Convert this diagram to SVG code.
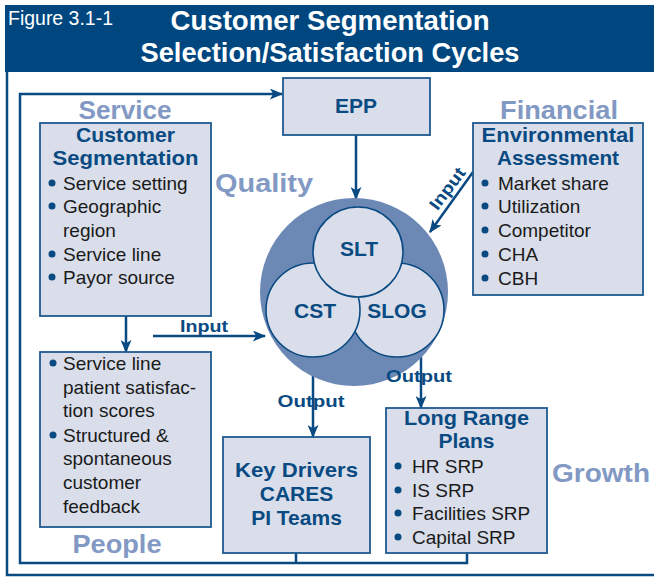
<svg xmlns="http://www.w3.org/2000/svg" width="654" height="578" viewBox="0 0 654 578">
<defs>
<style>
.bg{fill:#ffffff}
.hdr{fill:#00477f}
.frame{fill:none;stroke:#0a4a82;stroke-width:2.5}
.box{fill:#d9deea;stroke:#1f5a8f;stroke-width:1.8}
.conn{fill:none;stroke:#0a4a82;stroke-width:2.5}
.big{fill:#6c88b5}
.circ{fill:#d9deea;stroke:#0a4a82;stroke-width:1.6}
.t-hdr{font-family:"Liberation Sans",Arial,sans-serif;fill:#ffffff;font-weight:bold;font-size:27px;text-anchor:middle}
.t-fig{font-family:"Liberation Sans",Arial,sans-serif;fill:#ffffff;font-size:20px}
.t-big{font-family:"Liberation Sans",Arial,sans-serif;fill:#8299c4;font-weight:bold;font-size:26px;text-anchor:middle}
.t-title{font-family:"Liberation Sans",Arial,sans-serif;fill:#0a4a82;font-weight:bold;font-size:21px;text-anchor:middle}
.t-node{font-family:"Liberation Sans",Arial,sans-serif;fill:#0a4a82;font-weight:bold;font-size:21px;text-anchor:middle}
.t-lbl{font-family:"Liberation Sans",Arial,sans-serif;fill:#0a4a82;font-weight:bold;font-size:17px;text-anchor:middle}
.t-bul{font-family:"Liberation Sans",Arial,sans-serif;fill:#1a1a1a;font-size:19px}
.dot{fill:#0a4a82}
</style>
<marker id="ah" viewBox="0 0 12 10" refX="11" refY="5" markerWidth="14" markerHeight="11" markerUnits="userSpaceOnUse" orient="auto">
<path d="M0,0 L12,5 L0,10 L3,5 Z" fill="#0a4a82"/>
</marker>
</defs>
<rect class="bg" x="0" y="0" width="654" height="578"/>

<!-- header -->
<g id="header">
<rect class="hdr" x="5" y="5" width="649" height="67"/>
<text class="t-fig" x="8" y="25" textLength="105" lengthAdjust="spacingAndGlyphs">Figure 3.1-1</text>
<text class="t-hdr" x="330" y="30" textLength="319" lengthAdjust="spacingAndGlyphs">Customer Segmentation</text>
<text class="t-hdr" x="330" y="62" textLength="379" lengthAdjust="spacingAndGlyphs">Selection/Satisfaction Cycles</text>
</g>

<!-- outer frame -->
<path class="frame" d="M7,72 V575 H654"/>

<!-- category labels -->
<g id="labels">
<text class="t-big" x="125" y="119" textLength="93" lengthAdjust="spacingAndGlyphs">Service</text>
<text class="t-big" x="264" y="192" textLength="98" lengthAdjust="spacingAndGlyphs">Quality</text>
<text class="t-big" x="559" y="119" textLength="118" lengthAdjust="spacingAndGlyphs">Financial</text>
<text class="t-big" x="601" y="482" textLength="98" lengthAdjust="spacingAndGlyphs">Growth</text>
<text class="t-big" x="117" y="553" textLength="89" lengthAdjust="spacingAndGlyphs">People</text>
</g>

<!-- connectors -->
<g id="connectors">
<path class="conn" d="M467,553 V563 H20 V94 H282" marker-end="url(#ah)"/>
<path class="conn" d="M296,553 V563"/>
<path class="conn" d="M356,135 V199" marker-end="url(#ah)"/>
<path class="conn" d="M126,316 V352" marker-end="url(#ah)"/>
<path class="conn" d="M153,336 H265" marker-end="url(#ah)"/>
<path class="conn" d="M473,172 L430,232" marker-end="url(#ah)"/>
<path class="conn" d="M313,357 V437" marker-end="url(#ah)"/>
<path class="conn" d="M421,357 V408" marker-end="url(#ah)"/>
</g>

<!-- EPP -->
<g id="epp">
<rect class="box" x="283" y="78" width="147" height="57"/>
<text class="t-node" x="356" y="113">EPP</text>
</g>

<!-- Customer Segmentation -->
<g id="customer-segmentation">
<rect class="box" x="40" y="123" width="171" height="193"/>
<text class="t-title" x="125.5" y="142" textLength="99" lengthAdjust="spacingAndGlyphs">Customer</text>
<text class="t-title" x="125.5" y="165" textLength="146" lengthAdjust="spacingAndGlyphs">Segmentation</text>
<circle class="dot" cx="52" cy="183" r="3.5"/>
<text class="t-bul" x="63" y="190">Service setting</text>
<circle class="dot" cx="52" cy="206" r="3.5"/>
<text class="t-bul" x="63" y="213">Geographic</text>
<text class="t-bul" x="63" y="237">region</text>
<circle class="dot" cx="52" cy="254" r="3.5"/>
<text class="t-bul" x="63" y="261">Service line</text>
<circle class="dot" cx="52" cy="277" r="3.5"/>
<text class="t-bul" x="63" y="284">Payor source</text>
</g>

<!-- Environmental Assessment -->
<g id="environmental-assessment">
<rect class="box" x="473" y="123" width="170" height="172"/>
<text class="t-title" x="558" y="142" textLength="153" lengthAdjust="spacingAndGlyphs">Environmental</text>
<text class="t-title" x="558" y="165" textLength="122" lengthAdjust="spacingAndGlyphs">Assessment</text>
<circle class="dot" cx="485" cy="183" r="3.5"/>
<text class="t-bul" x="498" y="190">Market share</text>
<circle class="dot" cx="485" cy="206" r="3.5"/>
<text class="t-bul" x="498" y="213">Utilization</text>
<circle class="dot" cx="485" cy="230" r="3.5"/>
<text class="t-bul" x="498" y="237">Competitor</text>
<circle class="dot" cx="485" cy="254" r="3.5"/>
<text class="t-bul" x="498" y="261">CHA</text>
<circle class="dot" cx="485" cy="278" r="3.5"/>
<text class="t-bul" x="498" y="285">CBH</text>
</g>

<!-- Central circles -->
<g id="teams">
<circle class="big" cx="354" cy="292" r="94"/>
<g id="slog">
<circle class="circ" cx="397" cy="310" r="47"/>
<text class="t-node" x="397" y="318" font-size="20">SLOG</text>
</g>
<g id="cst">
<circle class="circ" cx="313" cy="310" r="47"/>
<text class="t-node" x="315" y="318" font-size="20">CST</text>
</g>
<g id="slt">
<circle class="circ" cx="358" cy="252" r="45"/>
<text class="t-node" x="359" y="256" font-size="20">SLT</text>
</g>
</g>

<!-- Satisfaction box -->
<g id="satisfaction">
<rect class="box" x="40" y="352" width="171" height="175"/>
<circle class="dot" cx="53" cy="363" r="3.5"/>
<text class="t-bul" x="63" y="370">Service line</text>
<text class="t-bul" x="63" y="394">patient satisfac-</text>
<text class="t-bul" x="63" y="417">tion scores</text>
<circle class="dot" cx="53" cy="435" r="3.5"/>
<text class="t-bul" x="63" y="442">Structured &amp;</text>
<text class="t-bul" x="63" y="465">spontaneous</text>
<text class="t-bul" x="63" y="489">customer</text>
<text class="t-bul" x="63" y="513">feedback</text>
</g>

<!-- Key Drivers -->
<g id="key-drivers">
<rect class="box" x="223" y="437" width="147" height="116"/>
<text class="t-node" x="296.5" y="477" font-size="22" textLength="123" lengthAdjust="spacingAndGlyphs">Key Drivers</text>
<text class="t-node" x="296.5" y="501" font-size="22">CARES</text>
<text class="t-node" x="296.5" y="525" font-size="22">PI Teams</text>
</g>

<!-- Long Range Plans -->
<g id="long-range-plans">
<rect class="box" x="386" y="408" width="161" height="145"/>
<text class="t-title" x="466.5" y="425" textLength="125" lengthAdjust="spacingAndGlyphs">Long Range</text>
<text class="t-title" x="466.5" y="448">Plans</text>
<circle class="dot" cx="398" cy="466" r="3.5"/>
<text class="t-bul" x="412" y="473">HR SRP</text>
<circle class="dot" cx="398" cy="490" r="3.5"/>
<text class="t-bul" x="412" y="497">IS SRP</text>
<circle class="dot" cx="398" cy="513" r="3.5"/>
<text class="t-bul" x="412" y="520">Facilities SRP</text>
<circle class="dot" cx="398" cy="537" r="3.5"/>
<text class="t-bul" x="412" y="544">Capital SRP</text>
</g>

<!-- connector labels -->
<g id="connector-labels">
<text class="t-lbl" x="204" y="332" textLength="48" lengthAdjust="spacingAndGlyphs">Input</text>
<text class="t-lbl" x="0" y="0" transform="translate(452,192) rotate(-53)" textLength="48" lengthAdjust="spacingAndGlyphs">Input</text>
<text class="t-lbl" x="311" y="407" textLength="67" lengthAdjust="spacingAndGlyphs">Output</text>
<text class="t-lbl" x="419" y="382" textLength="66" lengthAdjust="spacingAndGlyphs">Output</text>
</g>
</svg>
